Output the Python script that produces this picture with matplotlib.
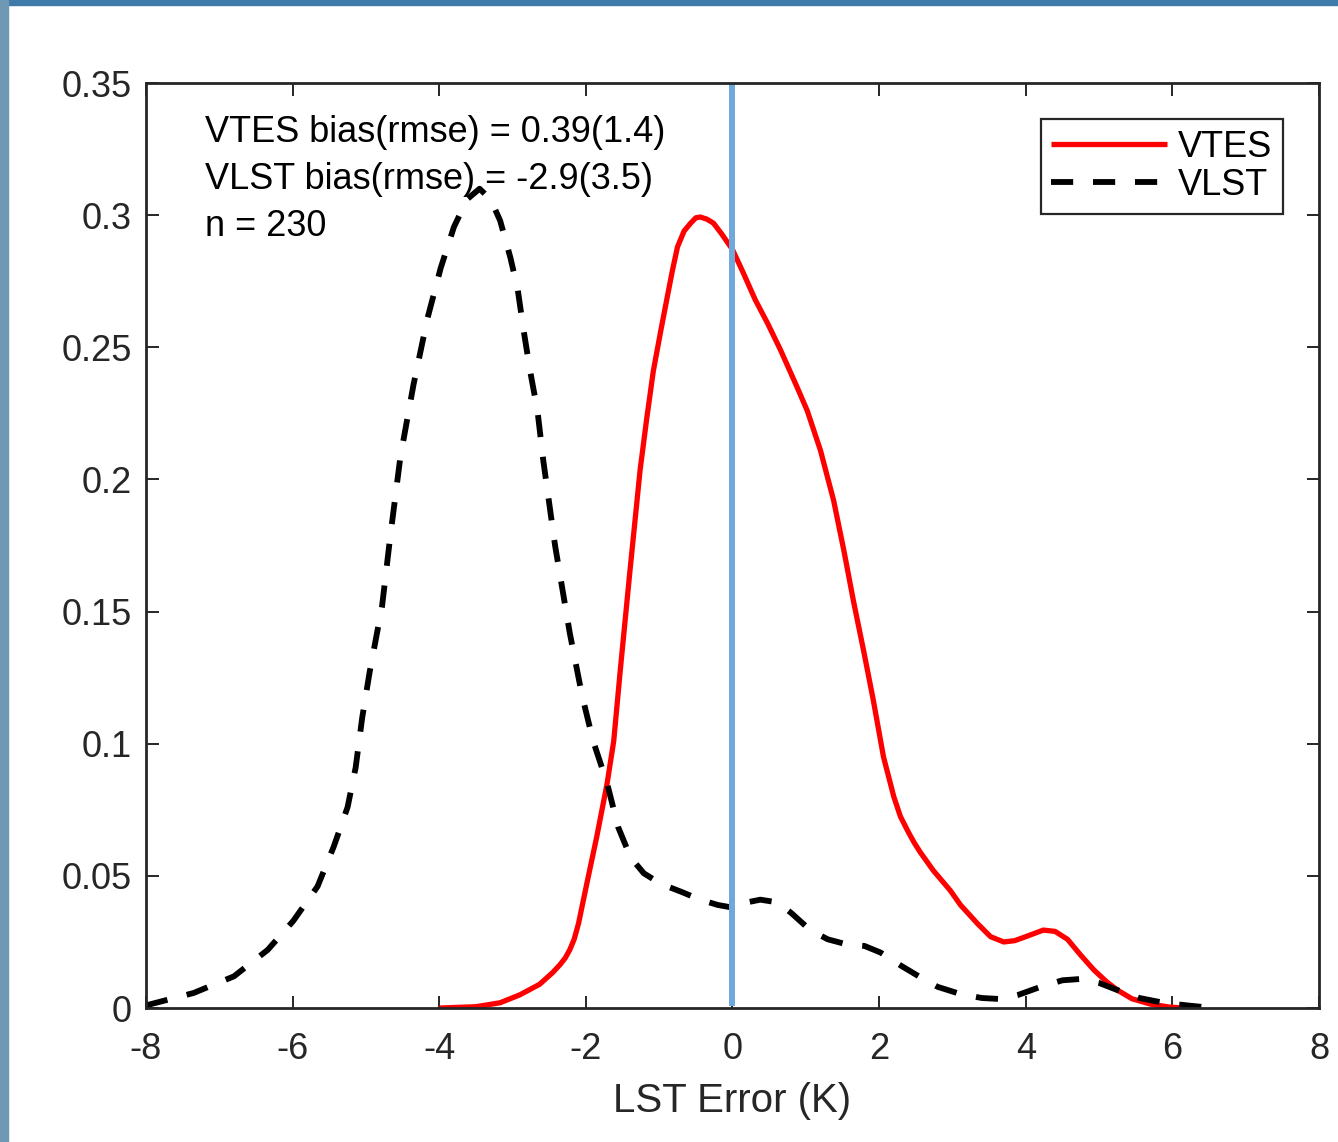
import matplotlib
matplotlib.use('Agg')
import matplotlib.pyplot as plt
from matplotlib.patches import Rectangle
from matplotlib.ticker import FormatStrFormatter

plt.rcParams['font.family'] = ['Liberation Sans', 'DejaVu Sans']
plt.rcParams['axes.unicode_minus'] = False

# density of LST error (K) for the two retrievals
vtes_x = [-4.00, -3.50, -3.17, -2.90, -2.63, -2.45, -2.35, -2.28, -2.22, -2.16,
          -2.10, -1.98, -1.85, -1.71, -1.62, -1.53, -1.40, -1.26, -1.17, -1.08,
          -0.98, -0.89, -0.82, -0.75, -0.66, -0.57, -0.50, -0.44, -0.35, -0.26,
          -0.15, 0.00, 0.15, 0.31, 0.48, 0.655, 0.88, 1.02, 1.20, 1.38,
          1.52, 1.65, 1.79, 1.92, 2.06, 2.20, 2.29, 2.40, 2.48, 2.56,
          2.65, 2.74, 2.97, 3.11, 3.34, 3.52, 3.70, 3.85, 4.00, 4.24,
          4.40, 4.57, 4.75, 4.93, 5.10, 5.25, 5.45, 5.70, 5.95, 6.15]
vtes_y = [0.0, 0.0005, 0.002, 0.005, 0.009, 0.0135, 0.0165, 0.019, 0.022, 0.026,
          0.032, 0.048, 0.065, 0.085, 0.101, 0.128, 0.165, 0.2036, 0.223, 0.241,
          0.256, 0.269, 0.279, 0.288, 0.294, 0.297, 0.299, 0.2993, 0.2985, 0.297,
          0.293, 0.287, 0.278, 0.268, 0.259, 0.249, 0.235, 0.226, 0.211, 0.192,
          0.173, 0.154, 0.135, 0.1166, 0.095, 0.080, 0.0725, 0.0665, 0.0625, 0.059,
          0.0555, 0.052, 0.0445, 0.039, 0.032, 0.027, 0.025, 0.0255, 0.027, 0.0295,
          0.029, 0.026, 0.020, 0.0144, 0.010, 0.0068, 0.0035, 0.0015, 0.0004, 0.0]

vlst_x = [-8.00, -7.35, -6.80, -6.34, -5.99, -5.66, -5.44, -5.25, -5.14, -5.05,
          -4.95, -4.78, -4.67, -4.53, -4.35, -4.16, -3.98, -3.80, -3.62, -3.45,
          -3.30, -3.17, -3.03, -2.93, -2.85, -2.76, -2.66, -2.58, -2.42, -2.22,
          -2.05, -1.90, -1.71, -1.56, -1.39, -1.21, -0.98, -0.70, -0.44, -0.20,
          0.00, 0.20, 0.38, 0.61, 0.80, 1.06, 1.30, 1.57, 1.80, 2.02,
          2.30, 2.56, 2.80, 3.11, 3.40, 3.66, 3.90, 4.20, 4.50, 4.75,
          5.00, 5.25, 5.55, 5.88, 6.20, 6.56]
vlst_y = [0.001, 0.0057, 0.012, 0.022, 0.033, 0.046, 0.061, 0.076, 0.091, 0.110,
          0.127, 0.152, 0.178, 0.2085, 0.236, 0.261, 0.280, 0.2955, 0.306, 0.310,
          0.306, 0.298, 0.284, 0.272, 0.2566, 0.241, 0.226, 0.207, 0.175, 0.142,
          0.118, 0.101, 0.085, 0.0685, 0.057, 0.051, 0.047, 0.044, 0.041, 0.039,
          0.038, 0.040, 0.041, 0.040, 0.036, 0.0295, 0.026, 0.024, 0.0235, 0.021,
          0.016, 0.0117, 0.008, 0.0053, 0.0038, 0.0034, 0.005, 0.008, 0.0105, 0.011,
          0.0095, 0.0068, 0.0038, 0.002, 0.001, 0.0]

vtes_bias, vtes_rmse = 0.39, 1.4
vlst_bias, vlst_rmse = -2.9, 3.5
n_obs = 230
zero_err = 0

x_ticks = list(range(-8, 9, 2))
y_ticks = [0, 0.05, 0.1, 0.15, 0.2, 0.25, 0.3, 0.35]

dark = '#262626'
fs = 26

fig = plt.figure(figsize=(13.38, 11.42), dpi=100)
fig.patch.set_facecolor('white')
# window edge
fig.patches.append(Rectangle((0, 1 - 5 / 1142), 1, 5 / 1142, transform=fig.transFigure,
                             color='#3f7aa8', zorder=0))
fig.patches.append(Rectangle((0, 0), 8 / 1338, 1, transform=fig.transFigure,
                             color='#6f98b5', zorder=0))

ax = fig.add_axes([0.1091, 0.1173, 0.8767, 0.81])

ax.plot(vtes_x, vtes_y, color='red', lw=3.8, label='VTES', solid_capstyle='butt',
        solid_joinstyle='round')
ax.plot(vlst_x, vlst_y, color='black', lw=4.2, linestyle=(0, (3.8, 3.4)),
        dash_capstyle='butt', dash_joinstyle='round', label='VLST')
ax.axvline(zero_err, ymin=0.005, ymax=0.997, color='#6fa8dc', lw=4.3)

ax.set_xlim(-8, 8)
ax.set_ylim(0, 0.35)
ax.set_xticks(x_ticks)
ax.set_yticks(y_ticks)
ax.yaxis.set_major_formatter(FormatStrFormatter('%g'))

for s in ax.spines.values():
    s.set_linewidth(2)
    s.set_color(dark)
ax.tick_params(direction='in', length=9, width=1.4, top=True, right=True,
               labelsize=fs, colors=dark)
ax.tick_params(axis='x', pad=17)
ax.tick_params(axis='y', pad=10)

ax.set_xlabel('LST Error (K)', fontsize=29, color=dark, labelpad=11)

ax.text(0.0503, 0.936, f'VTES bias(rmse) = {vtes_bias:g}({vtes_rmse:g})',
        transform=ax.transAxes, fontsize=fs, va='baseline')
ax.text(0.0503, 0.8854, f'VLST bias(rmse) = {vlst_bias:g}({vlst_rmse:g})',
        transform=ax.transAxes, fontsize=fs, va='baseline')
ax.text(0.0503, 0.8346, f'n = {n_obs}', transform=ax.transAxes, fontsize=fs,
        va='baseline')

leg = ax.legend(loc='upper right', fontsize=fs, handlelength=3.2, handletextpad=0.3,
                labelspacing=0.08, borderpad=0.3, borderaxespad=1.0, fancybox=False,
                framealpha=1)
leg.get_frame().set_edgecolor(dark)
leg.get_frame().set_linewidth(1.6)

fig.savefig('out.png', dpi=100)
